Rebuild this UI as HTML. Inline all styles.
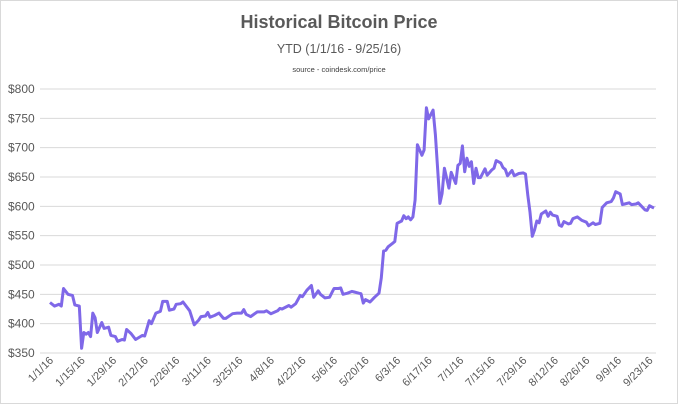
<!DOCTYPE html>
<html><head><meta charset="utf-8"><style>
body{margin:0;background:#fff;}
svg{display:block;font-family:"Liberation Sans",sans-serif;}
</style></head><body>
<svg width="678" height="404" viewBox="0 0 678 404">
<rect x="0.5" y="0.5" width="677" height="403" fill="#fff" stroke="#d9d9d9"/>
<text x="339" y="28" text-anchor="middle" font-size="18" font-weight="bold" fill="#595959">Historical Bitcoin Price</text>
<text x="339" y="53" text-anchor="middle" font-size="12.5" fill="#595959">YTD (1/1/16 - 9/25/16)</text>
<text x="339" y="72" text-anchor="middle" font-size="7.5" fill="#404040">source - coindesk.com/price</text>
<g id="grid"></g><g id="ylab"></g><g id="xlab"></g>
<polyline id="line" fill="none" stroke="#7f68e8" stroke-width="3" stroke-linejoin="round"/>
</svg>
<script>
const days=[0,2,4,5,6,8,10,11,13,14,15,16,17,18,19,20,21,23,24,26,27,29,30,32,33,34,36,38,41,42,44,45,47,49,50,52,53,55,56,58,59,62,64,66,67,69,70,71,73,75,77,78,81,83,85,86,87,89,92,95,96,98,101,102,103,106,107,109,111,112,114,116,117,119,120,122,124,126,128,129,130,132,134,135,137,138,139,140,142,144,146,147,148,149,150,152,153,154,156,157,158,159,160,161,162,163,165,166,167,168,170,171,173,174,175,177,178,180,181,182,183,184,185,186,187,188,189,190,191,193,194,196,197,198,200,201,202,203,205,206,208,210,211,212,213,214,215,216,217,218,220,221,222,223,225,226,227,228,230,231,232,234,236,238,239,241,242,244,245,247,249,250,251,253,254,255,257,258,260,261,262,264,265,266,267,268];
const prices=[436,430,433,430,460,450,448,432,430,358,385,382,385,378,418,410,385,402,392,394,380,378,370,373,372,390,383,373,380,379,405,400,418,421,438,438,423,425,433,434,437,422,398,406,412,413,419,411,414,418,409,409,417,418,418,424,416,412,420,420,422,417,422,426,425,431,428,434,448,446,457,465,445,456,450,444,445,460,460,461,450,452,455,454,452,451,435,441,437,445,452,478,524,525,531,537,540,571,575,584,579,582,577,582,611,705,687,696,768,749,764,722,605,622,665,631,658,639,670,673,703,659,682,668,676,639,665,649,649,664,653,662,665,678,674,666,663,652,661,652,656,657,655,619,590,549,560,575,572,587,592,583,590,585,583,568,566,574,570,571,579,582,576,573,567,572,569,571,598,606,608,614,625,621,603,604,606,603,604,606,602,594,593,601,599,597];
const yTicks=[350,400,450,500,550,600,650,700,750,800];
const xTickLabels=["1/1/16","1/15/16","1/29/16","2/12/16","2/26/16","3/11/16","3/25/16","4/8/16","4/22/16","5/6/16","5/20/16","6/3/16","6/17/16","7/1/16","7/15/16","7/29/16","8/12/16","8/26/16","9/9/16","9/23/16"];
const xTickDays=[0,14,28,42,56,70,84,98,112,126,140,154,168,182,196,210,224,238,252,266];
const NS="http://www.w3.org/2000/svg";
const x0=50,x1=654,y0=353,y1=89;
const xs=d=>x0+d*(x1-x0)/268;
const ys=p=>y0-(p-350)*(y0-y1)/450;
const grid=document.getElementById('grid'),ylab=document.getElementById('ylab'),xlab=document.getElementById('xlab');
yTicks.forEach(v=>{
  const l=document.createElementNS(NS,'line');
  l.setAttribute('x1',40);l.setAttribute('x2',656);
  l.setAttribute('y1',ys(v));l.setAttribute('y2',ys(v));
  l.setAttribute('stroke','#d9d9d9');l.setAttribute('stroke-width','1');
  
  
  grid.appendChild(l);
  const t=document.createElementNS(NS,'text');
  t.setAttribute('x',8);t.setAttribute('y',ys(v)+4);
  t.setAttribute('font-size','12');t.setAttribute('fill','#595959');
  t.textContent='$'+v;
  
  
  ylab.appendChild(t);
});
xTickLabels.forEach((s,i)=>{
  const t=document.createElementNS(NS,'text');
  const x=xs(xTickDays[i])+4,y=361;
  t.setAttribute('x',x);t.setAttribute('y',y);
  t.setAttribute('text-anchor','end');
  t.setAttribute('font-size','11');t.setAttribute('fill','#595959');
  t.setAttribute('transform','rotate(-45 '+x+' '+y+')');
  t.textContent=s;
  
  
  xlab.appendChild(t);
});
document.getElementById('line').setAttribute('points',days.map((d,i)=>xs(d).toFixed(1)+','+ys(prices[i]).toFixed(1)).join(' '));
</script>
</body></html>
